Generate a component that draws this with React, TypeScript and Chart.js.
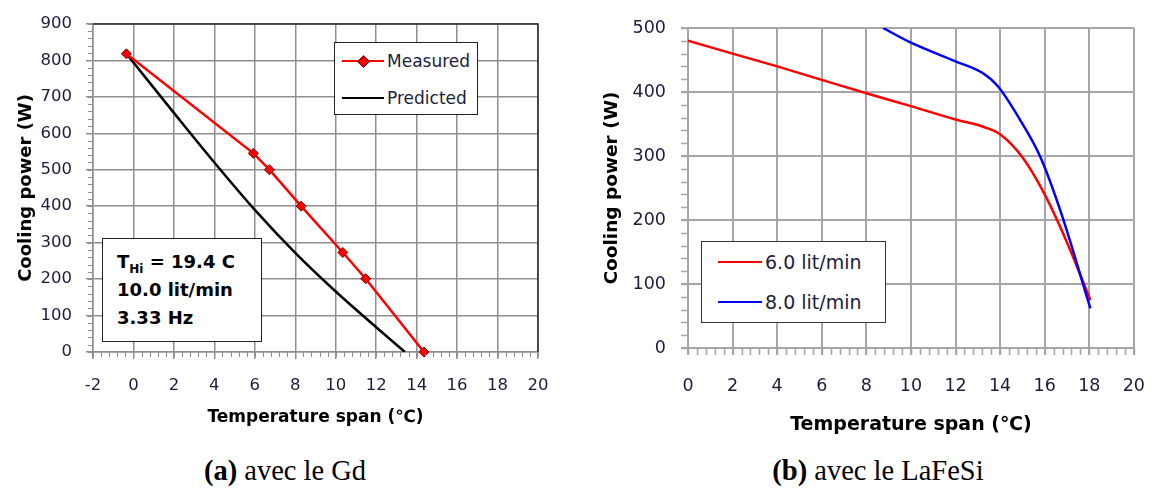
import React, { useEffect, useRef } from "react";
import { Chart, registerables } from "chart.js";
Chart.register(...registerables);

// ---- Data: (a) Gd ----
const gdXTicks = [-2, 0, 2, 4, 6, 8, 10, 12, 14, 16, 18, 20];
const gdYTicks = [0, 100, 200, 300, 400, 500, 600, 700, 800, 900];
const measuredX = [-0.35, 5.93, 6.72, 8.29, 10.35, 11.48, 14.36];
const measuredY = [818, 545, 500, 400, 273, 201, 0];
const predictedX = [-0.35, 0, 2, 4, 6, 8, 10, 12, 13.42];
const predictedY = [818, 794, 656, 520, 390, 272, 166, 68, 0];

// ---- Data: (b) LaFeSi ----
const lfXTicks = [0, 2, 4, 6, 8, 10, 12, 14, 16, 18, 20];
const lfYTicks = [0, 100, 200, 300, 400, 500];
const flow6X = [0, 2, 4, 6, 8, 10, 12, 13.3, 14, 15, 16, 17, 18.05];
const flow6Y = [480, 460, 440, 419, 398, 378, 357, 345, 334, 298, 240, 165, 75];
const flow8X = [8.75, 10, 12, 13.2, 13.9, 14.8, 15.8, 16.7, 18.05];
const flow8Y = [500, 477, 448, 430, 409, 362, 299, 215, 62];

const SANS = "'DejaVu Sans', sans-serif";
const TICK_COLOR = "#1c1c3c";

const pts = (xs: number[], ys: number[]) => xs.map((x, i) => ({ x, y: ys[i] }));

function makeMinorPlugin(xStep: number, yStep: number, xLen: number, yLen: number, color: string, width: number) {
  return {
    id: "minorTicks",
    afterDraw(chart: any) {
      const { ctx, chartArea } = chart;
      const xs = chart.scales.x;
      const ys = chart.scales.y;
      ctx.save();
      ctx.strokeStyle = color;
      ctx.lineWidth = width;
      ctx.beginPath();
      const nx = Math.round((xs.max - xs.min) / xStep);
      for (let i = 0; i <= nx; i++) {
        const px = Math.round(xs.getPixelForValue(xs.min + i * xStep)) + 0.5;
        ctx.moveTo(px, chartArea.bottom);
        ctx.lineTo(px, chartArea.bottom + xLen);
      }
      const ny = Math.round((ys.max - ys.min) / yStep);
      for (let i = 0; i <= ny; i++) {
        const py = Math.round(ys.getPixelForValue(ys.min + i * yStep)) + 0.5;
        ctx.moveTo(chartArea.left - yLen, py);
        ctx.lineTo(chartArea.left, py);
      }
      ctx.stroke();
      ctx.restore();
    },
  };
}

function makeBorderPlugin(color: string, width: number) {
  return {
    id: "frameTR",
    afterDraw(chart: any) {
      const { ctx, chartArea } = chart;
      ctx.save();
      ctx.strokeStyle = color;
      ctx.lineWidth = width;
      ctx.beginPath();
      ctx.moveTo(chartArea.left, chartArea.top);
      ctx.lineTo(chartArea.right, chartArea.top);
      ctx.lineTo(chartArea.right, chartArea.bottom);
      ctx.stroke();
      ctx.restore();
    },
  };
}

function GdChart() {
  const ref = useRef<HTMLCanvasElement | null>(null);
  useEffect(() => {
    if (!ref.current) return;
    const grid = "#8f8f8f";
    const chart = new Chart(ref.current, {
      type: "line",
      data: {
        datasets: [
          {
            label: "Measured",
            data: pts(measuredX, measuredY),
            borderColor: "#ff0000",
            backgroundColor: "#ff0000",
            borderWidth: 2.5,
            pointStyle: "rectRot",
            pointRadius: 5,
            pointBackgroundColor: "#ff0000",
            pointBorderColor: "#7a0000",
            pointBorderWidth: 1,
            tension: 0,
            clip: false,
            order: 0,
          } as any,
          {
            label: "Predicted",
            data: pts(predictedX, predictedY),
            borderColor: "#000000",
            borderWidth: 2.5,
            pointRadius: 0,
            cubicInterpolationMode: "monotone",
            order: 1,
          } as any,
        ],
      },
      options: {
        animation: false,
        responsive: false,
        maintainAspectRatio: false,
        layout: { padding: { top: 14, right: 45, left: 0, bottom: 0 } },
        plugins: { legend: { display: false }, tooltip: { enabled: false } },
        scales: {
          x: {
            type: "linear",
            min: gdXTicks[0],
            max: gdXTicks[gdXTicks.length - 1],
            afterBuildTicks: (s: any) => { s.ticks = gdXTicks.map((v) => ({ value: v })); },
            ticks: { font: { family: SANS, size: 16.5 }, color: TICK_COLOR, padding: 17, maxRotation: 0 },
            grid: { color: grid, lineWidth: 1.5, tickLength: 7 },
            border: { color: grid, width: 1.5 },
            title: {
              display: true,
              text: "Temperature span (℃)",
              font: { family: SANS, size: 17, weight: "bold" },
              color: "#000",
              padding: { top: 0, bottom: 12 },
            },
            afterFit: (s: any) => { s.height = 88; },
          },
          y: {
            type: "linear",
            min: gdYTicks[0],
            max: gdYTicks[gdYTicks.length - 1],
            afterBuildTicks: (s: any) => { s.ticks = gdYTicks.map((v) => ({ value: v })); },
            ticks: { font: { family: SANS, size: 16.5 }, color: TICK_COLOR, padding: 14 },
            grid: { color: grid, lineWidth: 1.5, tickLength: 7 },
            border: { color: grid, width: 1.5 },
            title: {
              display: true,
              text: "Cooling power (W)",
              font: { family: SANS, size: 18, weight: "bold" },
              color: "#000",
              padding: { top: 16, bottom: 0 },
            },
            afterFit: (s: any) => { s.width = 93; },
          },
        },
      } as any,
      plugins: [makeMinorPlugin(0.4, 20, 5, 5, grid, 1), makeBorderPlugin("#2a2a2a", 1.5)],
    });
    return () => chart.destroy();
  }, []);
  return (
    <canvas
      ref={ref}
      width={583}
      height={440}
      style={{ position: "absolute", left: 0, top: 0, width: 583, height: 440 }}
    />
  );
}

function LfChart() {
  const ref = useRef<HTMLCanvasElement | null>(null);
  useEffect(() => {
    if (!ref.current) return;
    const grid = "#a6a6a6";
    const chart = new Chart(ref.current, {
      type: "line",
      data: {
        datasets: [
          {
            label: "8.0 lit/min",
            data: pts(flow8X, flow8Y),
            borderColor: "#0000ff",
            borderWidth: 2.5,
            pointRadius: 0,
            cubicInterpolationMode: "monotone",
            order: 0,
          } as any,
          {
            label: "6.0 lit/min",
            data: pts(flow6X, flow6Y),
            borderColor: "#ff0000",
            borderWidth: 2.5,
            pointRadius: 0,
            cubicInterpolationMode: "monotone",
            order: 1,
          } as any,
        ],
      },
      options: {
        animation: false,
        responsive: false,
        maintainAspectRatio: false,
        layout: { padding: { top: 28, right: 20, left: 0, bottom: 0 } },
        plugins: { legend: { display: false }, tooltip: { enabled: false } },
        scales: {
          x: {
            type: "linear",
            min: lfXTicks[0],
            max: lfXTicks[lfXTicks.length - 1],
            afterBuildTicks: (s: any) => { s.ticks = lfXTicks.map((v) => ({ value: v })); },
            ticks: { font: { family: SANS, size: 17.5 }, color: TICK_COLOR, padding: 21, maxRotation: 0 },
            grid: { color: grid, lineWidth: 2, tickLength: 7 },
            border: { color: grid, width: 2 },
            title: {
              display: true,
              text: "Temperature span (℃)",
              font: { family: SANS, size: 19, weight: "bold" },
              color: "#000",
              padding: { top: 0, bottom: 4 },
            },
            afterFit: (s: any) => { s.height = 92; },
          },
          y: {
            type: "linear",
            min: lfYTicks[0],
            max: lfYTicks[lfYTicks.length - 1],
            afterBuildTicks: (s: any) => { s.ticks = lfYTicks.map((v) => ({ value: v })); },
            ticks: { font: { family: SANS, size: 17.5 }, color: TICK_COLOR, padding: 15 },
            grid: { color: grid, lineWidth: 2, tickLength: 7 },
            border: { color: grid, width: 2 },
            title: {
              display: true,
              text: "Cooling power (W)",
              font: { family: SANS, size: 18.5, weight: "bold" },
              color: "#000",
              padding: { top: 18, bottom: 0 },
            },
            afterFit: (s: any) => { s.width = 105; },
          },
        },
      } as any,
      plugins: [makeMinorPlugin(0.4, 20, 7, 7, grid, 1.5)],
    });
    return () => chart.destroy();
  }, []);
  return (
    <canvas
      ref={ref}
      width={583}
      height={440}
      style={{ position: "absolute", left: 583, top: 0, width: 583, height: 440 }}
    />
  );
}

const abs = (s: React.CSSProperties): React.CSSProperties => ({ position: "absolute", ...s });

function LegendRow({ x1, x2, y, color, label, textX, size, marker }: any) {
  return (
    <>
      <div style={abs({ left: x1, top: y - 1.25, width: x2 - x1, height: 2.5, background: color })} />
      {marker && (
        <div
          style={abs({
            left: (x1 + x2) / 2 - 4,
            top: y - 4,
            width: 7,
            height: 7,
            background: "#ff0000",
            border: "1px solid #7a0000",
            transform: "rotate(45deg)",
          })}
        />
      )}
      <div
        style={abs({
          left: textX,
          top: y - 12,
          height: 24,
          lineHeight: "24px",
          fontFamily: SANS,
          fontSize: size,
          color: TICK_COLOR,
          whiteSpace: "nowrap",
        })}
      >
        {label}
      </div>
    </>
  );
}

export default function App() {
  const boxText: React.CSSProperties = {
    position: "absolute",
    left: 117,
    height: 26,
    lineHeight: "26px",
    fontFamily: SANS,
    fontWeight: "bold",
    fontSize: 18,
    color: "#000",
    whiteSpace: "nowrap",
  };
  const caption: React.CSSProperties = {
    position: "absolute",
    width: 400,
    top: 456,
    height: 30,
    lineHeight: "30px",
    textAlign: "center",
    fontFamily: "'Liberation Serif', serif",
    fontSize: 28.5,
    color: "#000",
    whiteSpace: "nowrap",
  };
  return (
    <div style={abs({ left: 0, top: 0, width: 1166, height: 491, background: "#fff", overflow: "hidden" })}>
      <GdChart />
      <LfChart />

      {/* (a) legend */}
      <div style={abs({ left: 334, top: 42, width: 144, height: 73, boxSizing: "border-box", border: "1.5px solid #222", background: "#fff" })} />
      <LegendRow x1={342} x2={384} y={61} color="#ff0000" label="Measured" textX={387} size={17} marker />
      <LegendRow x1={342} x2={384} y={98} color="#000000" label="Predicted" textX={387} size={17} />

      {/* (a) conditions box */}
      <div style={abs({ left: 102, top: 238, width: 160, height: 104, boxSizing: "border-box", border: "1.5px solid #222", background: "#fff" })} />
      <div style={{ ...boxText, top: 249 }}>
        T<span style={{ fontSize: 12, position: "relative", top: 5 }}>Hi</span> = 19.4 C
      </div>
      <div style={{ ...boxText, top: 277 }}>10.0 lit/min</div>
      <div style={{ ...boxText, top: 305 }}>3.33 Hz</div>

      {/* (b) legend */}
      <div style={abs({ left: 701, top: 241, width: 185, height: 82, boxSizing: "border-box", border: "1.5px solid #333", background: "#fff" })} />
      <LegendRow x1={718} x2={762} y={262} color="#ff0000" label="6.0 lit/min" textX={765} size={19} />
      <LegendRow x1={718} x2={762} y={302} color="#0000ff" label="8.0 lit/min" textX={765} size={19} />

      {/* captions */}
      <div style={{ ...caption, left: 85 }}>
        <b>(a)</b> avec le Gd
      </div>
      <div style={{ ...caption, left: 678 }}>
        <b>(b)</b> avec le LaFeSi
      </div>
    </div>
  );
}
